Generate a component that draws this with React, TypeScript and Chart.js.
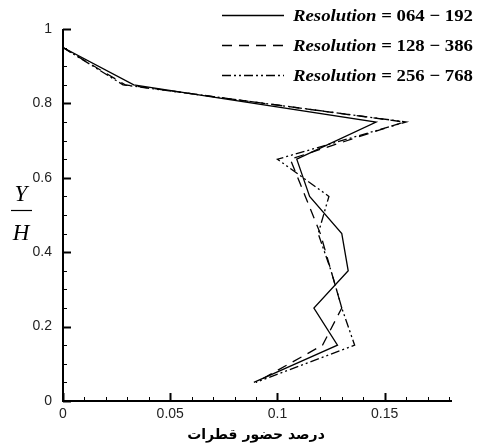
import React, { useEffect, useRef } from "react";
import { Chart, registerables } from "chart.js";

Chart.register(...registerables);

const yLevels = [0.95, 0.85, 0.75, 0.65, 0.55, 0.45, 0.35, 0.25, 0.15, 0.05];
const res064 = [0, 0.033, 0.146, 0.109, 0.115, 0.13, 0.133, 0.117, 0.128, 0.089];
const res128 = [0, 0.029, 0.159, 0.106, 0.113, 0.12, 0.125, 0.13, 0.121, 0.09];
const res256 = [0, 0.028, 0.16, 0.1, 0.124, 0.119, 0.125, 0.13, 0.136, 0.09];
const seriesNames = ["064 \u2212 192", "128 \u2212 386", "256 \u2212 768"];
const xTitle = "درصد حضور قطرات";

const dashes: number[][] = [[], [10, 7], [9, 3, 2, 3, 2, 3]];

const decor = {
  id: "decor",
  afterDraw(chart: any) {
    const { ctx, scales } = chart;
    const x = scales.x;
    const y = scales.y;
    ctx.save();
    ctx.strokeStyle = "#000";
    for (let i = 0; i <= 18; i++) {
      const v = i / 100;
      const px = Math.round(x.getPixelForValue(v)) + 0.5;
      const major = i % 5 === 0;
      ctx.lineWidth = major ? 2 : 1;
      ctx.beginPath();
      ctx.moveTo(px, y.bottom);
      ctx.lineTo(px, y.bottom - (major ? 8 : 4));
      ctx.stroke();
    }
    for (let i = 0; i <= 20; i++) {
      const v = i / 20;
      const py = Math.round(y.getPixelForValue(v)) + 0.5;
      const major = i % 4 === 0;
      ctx.lineWidth = major ? 2 : 1;
      ctx.beginPath();
      ctx.moveTo(x.left, py);
      ctx.lineTo(x.left + (major ? 8 : 4), py);
      ctx.stroke();
    }
    ctx.lineWidth = 2;
    ctx.beginPath();
    ctx.moveTo(x.left, y.top);
    ctx.lineTo(x.left, y.bottom);
    ctx.lineTo(x.right + 3, y.bottom);
    ctx.stroke();

    ctx.fillStyle = "#000";
    ctx.font = "italic 23px 'Liberation Serif'";
    ctx.textAlign = "center";
    ctx.textBaseline = "alphabetic";
    ctx.fillText("Y", 21, 201);
    ctx.fillText("H", 21, 240);
    ctx.lineWidth = 1.2;
    ctx.beginPath();
    ctx.moveTo(11, 210.5);
    ctx.lineTo(32, 210.5);
    ctx.stroke();

    const rows = [15, 45, 75];
    for (let i = 0; i < 3; i++) {
      const ry = rows[i] + 0.5;
      ctx.setLineDash(dashes[i]);
      ctx.lineWidth = 1.3;
      ctx.beginPath();
      ctx.moveTo(222, ry);
      ctx.lineTo(284, ry);
      ctx.stroke();
      ctx.setLineDash([]);
      const fs = 17;
      const f1 = `italic bold ${fs}px 'Liberation Serif'`;
      const f2 = `bold ${fs}px 'Liberation Serif'`;
      const t1 = "Resolution";
      const t2 = " = " + seriesNames[i];
      ctx.font = f1;
      const w1 = ctx.measureText(t1).width;
      ctx.font = f2;
      const w2 = ctx.measureText(t2).width;
      const s = 180 / (w1 + w2);
      ctx.save();
      ctx.translate(293, rows[i] + 6);
      ctx.scale(s, 1);
      ctx.textAlign = "left";
      ctx.font = f1;
      ctx.fillText(t1, 0, 0);
      ctx.font = f2;
      ctx.fillText(t2, w1, 0);
      ctx.restore();
    }
    ctx.restore();
  },
};

export default function App() {
  const ref = useRef<HTMLCanvasElement | null>(null);
  useEffect(() => {
    if (!ref.current) return;
    const mk = (arr: number[]) => arr.map((v, i) => ({ x: v, y: yLevels[i] }));
    const sets = [res064, res128, res256].map((arr, i) => ({
      label: "Resolution = " + seriesNames[i],
      data: mk(arr),
      showLine: true,
      borderColor: "#000",
      backgroundColor: "#000",
      borderWidth: 1.3,
      borderDash: dashes[i],
      pointRadius: 0,
      tension: 0,
    }));
    const chart = new Chart(ref.current, {
      type: "scatter",
      data: { datasets: sets },
      options: {
        animation: false,
        responsive: false,
        devicePixelRatio: 1,
        layout: { padding: { left: 0, right: 28, top: 29, bottom: 0 } },
        plugins: { legend: { display: false }, tooltip: { enabled: false } },
        scales: {
          x: {
            type: "linear",
            min: 0,
            max: 0.18,
            grid: { display: false, drawTicks: false },
            border: { display: false },
            ticks: {
              stepSize: 0.05,
              includeBounds: false,
              padding: 5,
              color: "#222",
              font: { family: "'Liberation Sans'", size: 14 },
              maxRotation: 0,
              callback: (v: any) => String(Number(Number(v).toFixed(2))),
            },
            title: {
              display: true,
              text: xTitle,
              color: "#000",
              font: { family: "'DejaVu Sans'", size: 14, weight: "bold" },
              padding: { top: 0, bottom: 4 },
            },
            afterFit: (s: any) => {
              s.height = 47;
            },
          },
          y: {
            type: "linear",
            min: 0,
            max: 1,
            grid: { display: false, drawTicks: false },
            border: { display: false },
            ticks: {
              stepSize: 0.2,
              padding: 11,
              color: "#222",
              font: { family: "'Liberation Sans'", size: 14 },
              callback: (v: any) => String(Number(Number(v).toFixed(2))),
            },
            afterFit: (s: any) => {
              s.width = 63;
            },
          },
        },
      },
      plugins: [decor],
    });
    return () => chart.destroy();
  }, []);
  return (
    <div style={{ position: "absolute", left: 0, top: 0, width: 477, height: 448, background: "#fff" }}>
      <canvas ref={ref} width={477} height={448} style={{ width: 477, height: 448, display: "block" }} />
    </div>
  );
}
